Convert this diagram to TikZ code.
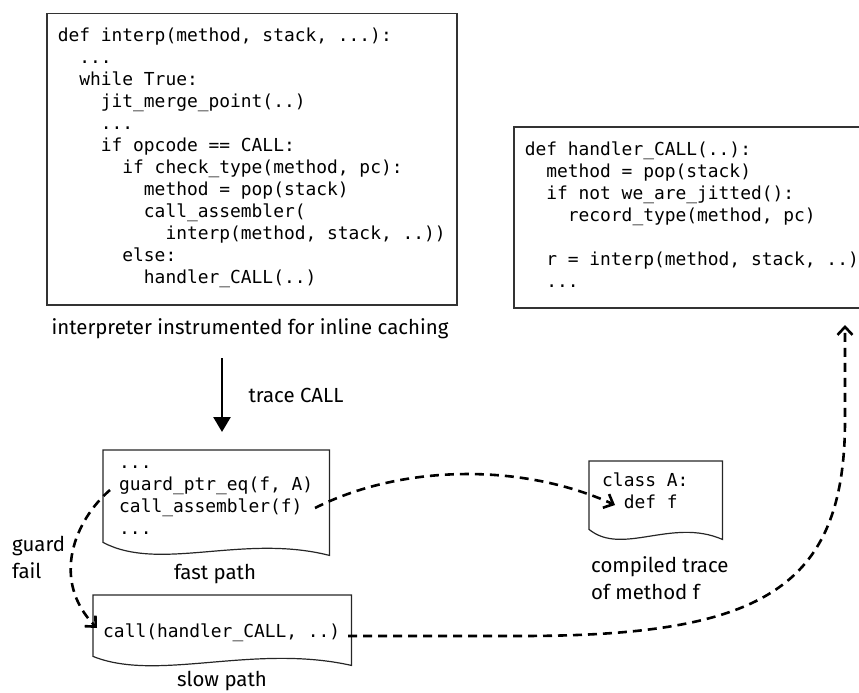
\documentclass[tikz,border=0pt]{standalone}
\usepackage{fontspec}
\setmainfont{Fira Sans}
\setmonofont{DejaVu Sans Mono}
\usetikzlibrary{arrows.meta,calc}
\newcommand\ind[1]{\hspace*{#1\fontcharwd\font`x}}
\newcommand\codefont{\fontsize{17.9}{22}\selectfont\ttfamily}
\newcommand\lblfont{\fontsize{20.4}{27}\selectfont}
\newcommand\docframe[2]{%
  \draw[docline] let \p1=(#1.south west), \p2=(#1.south east) in
    (#1.north west) -- (#1.north east) -- (\p2)
    .. controls ({0.38*\x1+0.62*\x2},{\y2+22pt}) and ({0.75*\x1+0.25*\x2},{\y2-17pt}) .. (\x1,{\y2+#2}) -- cycle;}
\tikzset{
  codebox/.style={draw=black!80, line width=1.5pt, inner ysep=0pt, align=flush left, font=\codefont, anchor=north west},
  docnode/.style={inner ysep=0pt, align=flush left, font=\codefont, anchor=north west},
  docline/.style={draw=black!85, line width=1.2pt},
  lbl/.style={font=\lblfont, inner sep=0pt},
  dasharrow/.style={line width=2.6pt, dash pattern=on 9pt off 6pt, -{Straight Barb[length=8pt,width=15pt]}},
  solidarrow/.style={line width=2.6pt, -{Triangle[length=15pt,width=17pt]}}
}
\begin{document}
\begin{tikzpicture}[x=1pt,y=-1pt]
\useasboundingbox (0,0) rectangle (859,693);
\clip (0,0) rectangle (859,693);

% interpreter box
\node[codebox, inner xsep=11pt, text width=388pt, text height=28pt, text depth=263pt] (interp) at (46,13)
{def interp(method, stack, ...):\\
\ind{2}...\\
\ind{2}while True:\\
\ind{4}jit\_merge\_point(..)\\
\ind{4}...\\
\ind{4}if opcode == CALL:\\
\ind{6}if check\_type(method, pc):\\
\ind{8}method = pop(stack)\\
\ind{8}call\_assembler(\\
\ind{10}interp(method, stack, ..))\\
\ind{6}else:\\
\ind{8}handler\_CALL(..)};

% handler box
\node[codebox, inner xsep=11pt, text width=378pt, text height=29pt, text depth=152pt] (handler) at (513,126)
{def handler\_CALL(..):\\
\ind{2}method = pop(stack)\\
\ind{2}if not we\_are\_jitted():\\
\ind{4}record\_type(method, pc)\\[22pt]
\ind{2}r = interp(method, stack, ..)\\
\ind{2}...};

% fast path
\node[docnode, inner xsep=16pt, text width=194pt, text height=18pt, text depth=87pt] (fast) at (103,450)
{...\\
guard\_ptr\_eq(f,~A)\\
call\_assembler(f)\\
...};
\docframe{fast}{13pt}

% slow path
\node[docnode, inner xsep=10pt, text width=238pt, text height=42pt, text depth=28pt] (slow) at (93,595)
{call(handler\_CALL,~..)};
\docframe{slow}{9pt}

% class A
\node[docnode, inner xsep=13pt, text width=107pt, text height=25pt, text depth=53pt] (classA) at (589,461)
{class A:\\
\ind{2}def f};
\docframe{classA}{10pt}

% labels
\node[lbl] (interplbl) at (250,329) {interpreter instrumented for inline caching};
\node[lbl] (tracelbl) at (296,395) {trace CALL};
\node[lbl] (fastlbl) at (215,574) {fast path};
\node[lbl] (slowlbl) at (222,681) {slow path};
\node[lbl, align=flush left, anchor=west] (complbl) at (591,578) {compiled trace\\of method f};
\node[lbl, align=flush left, anchor=west] (guardlbl) at (12,557) {guard\\fail};

% connectors
\coordinate (tA) at (222,358);
\coordinate (tB) at (222,432);
\draw[solidarrow] (tA) -- (tB);

\coordinate (g0) at (110,490);
\coordinate (g1) at (97,628);
\draw[dasharrow] (g0) .. controls (75,520) and (50,580) .. (g1);

\coordinate (c0) at (315,508);
\coordinate (c1) at (615,505);
\draw[dasharrow] (c0) .. controls (400,465) and (520,462) .. (c1);

\coordinate (s0) at (348,636);
\coordinate (s1) at (845,325);
\draw[dasharrow] (s0) -- (520,636) .. controls (760,636) and (845,590) .. (845,420) -- (s1);
\end{tikzpicture}
\end{document}
